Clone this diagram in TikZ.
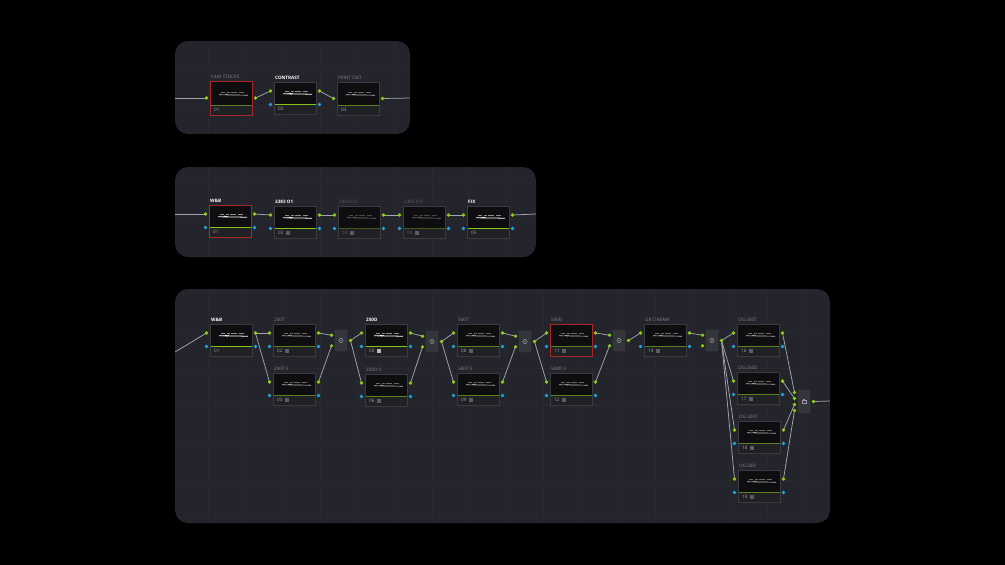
\documentclass[tikz,border=0pt]{standalone}
\usepackage{fontspec}
\setmainfont{Open Sans}
\usetikzlibrary{calc}
\pgfdeclarelayer{bglayer}
\pgfdeclarelayer{wirelayer}
\pgfsetlayers{bglayer,wirelayer,main}
\definecolor{panelc}{HTML}{24252C}
\definecolor{gridc}{HTML}{28292F}
\definecolor{nfill}{HTML}{0E0E10}
\definecolor{nedge}{HTML}{3A3B41}
\definecolor{stripcol}{HTML}{202125}
\definecolor{sepgreen}{HTML}{86C21A}
\definecolor{sepdim}{HTML}{5F7F1C}
\definecolor{pgreen}{HTML}{8CD10F}
\definecolor{pblue}{HTML}{1EA5DF}
\definecolor{selred}{HTML}{A8282A}
\definecolor{wirec}{HTML}{A4A5AA}
\definecolor{lblgrey}{HTML}{85868C}
\definecolor{lbldim}{HTML}{5E5F65}
\definecolor{numc}{HTML}{A0A1A6}
\definecolor{numdim}{HTML}{5A5B60}
\definecolor{icnc}{HTML}{5C5D62}
\definecolor{icnb}{HTML}{B8B9BD}
\definecolor{mixfill}{HTML}{34353B}
\definecolor{mixedge}{HTML}{44454B}
\definecolor{miconc}{HTML}{9A9BA0}
\newcommand\icn{\hspace{2.6pt}\textcolor{icnc}{\rule[-0.2pt]{3.6pt}{3.6pt}}}
\newcommand\icnB{\hspace{2.6pt}\textcolor{icnb}{\rule[-0.2pt]{3.6pt}{3.6pt}}}
\tikzset{
 panelbox/.style={fill=panelc, rounded corners=13pt},
 gridline/.style={draw=gridc, line width=0.5pt},
 nbox/.style={anchor=north west, minimum width=42pt, inner sep=0pt, outer sep=0pt, fill=nfill, draw=none},
 frame/.style={draw=nedge, line width=0.5pt},
 sel/.style={frame/.style={draw=selred, line width=1pt}},
 stripc/.style={fill=stripcol},
 sepline/.style={draw=sepgreen, line width=0.6pt},
 thumbA/.style={draw=white, line width=0.8pt},
 thumbB/.style={draw=white!55!black, line width=0.35pt},
 dim/.style={thumbA/.style={draw=white!72!black, line width=0.6pt},
   thumbB/.style={draw=white!40!black, line width=0.35pt},
   sepline/.style={draw=sepdim, line width=0.6pt}},
 dimmer/.style={thumbA/.style={draw=white!45!black, line width=0.6pt},
   thumbB/.style={draw=white!28!black, line width=0.35pt},
   sepline/.style={draw=sepdim!70!black, line width=0.6pt},
   numtxt/.style={anchor=west, inner sep=0pt, font=\fontsize{4.6}{5}\selectfont, text=numdim}},
 lbl/.style={anchor=base west, inner sep=0pt, font=\fontsize{4.6}{5}\selectfont, text=lblgrey},
 lblb/.style={lbl, text=white, font=\fontsize{4.6}{5}\selectfont\bfseries},
 lbld/.style={lbl, text=lbldim},
 numtxt/.style={anchor=west, inner sep=0pt, font=\fontsize{4.6}{5}\selectfont, text=numc},
 gport/.style={fill=pgreen},
 bport/.style={fill=pblue},
 wire/.style={draw=wirec, line width=0.75pt},
 mixbox/.style={anchor=north west, minimum width=12pt, inner sep=0pt, outer sep=0pt, fill=mixfill, draw=mixedge, line width=0.4pt, rounded corners=1.2pt},
 micon/.style={draw=miconc, line width=0.5pt},
}
% #1 opts, #2 name, #3 x, #4 y, #5 height, #6 label style, #7 label, #8 number
\newcommand\cgbody[8][]{%
 \begin{scope}[#1]
 \node[nbox, minimum height=#5] (#2) at (#3,#4) {};
 \fill[stripc] ($(#2.south west)+(0.3,-0.3)$) rectangle ($(#2.south east)+(-0.3,-10)$);
 \draw[sepline] ($(#2.south west)+(0.3,-10)$) -- ($(#2.south east)+(-0.3,-10)$);
 \draw[thumbB] ($(#2.south west)+(11,-22.5)$) -- ++(4,0) ++(1.5,0) -- ++(3,0) ++(1.5,0) -- ++(6,0) ++(1.5,0) -- ++(5,0);
 \draw[thumbA] ($(#2.south west)+(9,-20.3)$) -- ++(6,0.2) -- ++(1,-0.8) -- ++(1,1.2) -- ++(1,-0.9) -- ++(1,0.6) -- ++(9,0) -- ++(10,0.3);
 \draw[frame] (#2.north west) rectangle (#2.south east);
 \node[#6] at ($(#2.north west)+(1,-3)$) {#7};
 \node[numtxt] at ($(#2.south west)+(4,-4.8)$) {#8};
 \end{scope}}
\newcommand\fourports[1]{%
 \coordinate (#1-gi) at ($(#1.north west)+(-3.5,9)$);
 \coordinate (#1-bi) at ($(#1.north west)+(-3.5,22.5)$);
 \coordinate (#1-go) at ($(#1.north east)+(3.5,9)$);
 \coordinate (#1-bo) at ($(#1.north east)+(3.5,22.5)$);
 \fill[gport] (#1-gi) circle (1.8) (#1-go) circle (1.8);
 \fill[bport] (#1-bi) circle (1.8) (#1-bo) circle (1.8);}
\newcommand\twoports[1]{%
 \coordinate (#1-gi) at ($(#1.west)+(-3.5,0)$);
 \coordinate (#1-go) at ($(#1.east)+(3.5,0)$);
 \fill[gport] (#1-gi) circle (1.8) (#1-go) circle (1.8);}
% mixer: #1 name, #2 x, #3 y
\newcommand\mixtwo[3]{%
 \node[mixbox, minimum height=21pt] (#1) at (#2,#3) {};
 \draw[micon] (#1.center) circle (2.1);
 \fill[miconc] (#1.center) circle (0.7);
 \coordinate (#1-i1) at ($(#1.west)+(-3.5,-5.3)$);
 \coordinate (#1-i2) at ($(#1.west)+(-3.5,5.3)$);
 \coordinate (#1-o) at ($(#1.east)+(3.5,0)$);
 \fill[gport] (#1-i1) circle (1.8) (#1-i2) circle (1.8) (#1-o) circle (1.8);}
\newcommand\mixfour[3]{%
 \node[mixbox, minimum height=23pt] (#1) at (#2,#3) {};
 \draw[micon] ($(#1.center)+(-2,-1.6)$) rectangle ($(#1.center)+(2,2)$);
 \draw[micon] ($(#1.center)+(-1,-2.4)$) -- ($(#1.center)+(1,-2.4)$);
 \coordinate (#1-i1) at ($(#1.west)+(-3.5,-9)$);
 \coordinate (#1-i2) at ($(#1.west)+(-3.5,-3)$);
 \coordinate (#1-i3) at ($(#1.west)+(-3.5,3)$);
 \coordinate (#1-i4) at ($(#1.west)+(-3.5,9)$);
 \coordinate (#1-o) at ($(#1.east)+(3.5,0)$);
 \fill[gport] (#1-i1) circle (1.8) (#1-i2) circle (1.8) (#1-i3) circle (1.8) (#1-i4) circle (1.8) (#1-o) circle (1.8);}
\begin{document}
\begin{tikzpicture}[x=1pt,y=-1pt]
\useasboundingbox (0,0) rectangle (1005,565);
\begin{pgfonlayer}{bglayer}
\fill[black] (0,0) rectangle (1005,565);
\fill[panelbox] (175,41) rectangle (410,134);
\fill[panelbox] (175,167) rectangle (536,257);
\fill[panelbox] (175,289) rectangle (830,523);
\begin{scope}
 \clip[rounded corners=13pt] (175,41) rectangle (410,134) (175,167) rectangle (536,257) (175,289) rectangle (830,523);
 \foreach \gx in {170.7,208,...,835} \draw[gridline] (\gx,30) -- (\gx,530);
 \foreach \gy in {32.5,69.8,...,530} \draw[gridline] (170,\gy) -- (835,\gy);
\end{scope}
\end{pgfonlayer}
% ---------- panel 1
\coordinate (p1L) at (175,98);
\coordinate (p1R) at (410,98);
\cgbody[sel,dim]{fs}{210}{81}{34pt}{lbl}{FILM STOCKS}{01}
\twoports{fs}
\cgbody{ct}{274}{82}{32pt}{lblb}{CONTRAST}{02}
\fourports{ct}
\cgbody[dim]{po}{337}{82}{33pt}{lbl}{PRINT OUT}{03}
\twoports{po}
% ---------- panel 2
\coordinate (p2L) at (175,214);
\coordinate (p2R) at (536,214);
\cgbody[sel]{wa}{209}{205}{32pt}{lblb}{W\&B}{01}
\fourports{wa}
\cgbody{oa}{274}{206}{32pt}{lblb}{2383 O1}{02\icn}
\fourports{oa}
\cgbody[dimmer]{ob}{338}{206}{32pt}{lbld}{2383 O2}{03\icn}
\fourports{ob}
\cgbody[dimmer]{oc}{403}{206}{32pt}{lbld}{2383 O3}{04\icn}
\fourports{oc}
\cgbody{fx}{467}{206}{32pt}{lblb}{FIX}{05}
\fourports{fx}
% ---------- panel 3
\coordinate (p3L) at (175,352);
\coordinate (p3R) at (830,401);
\cgbody{wb}{210}{324}{32pt}{lblb}{W\&B}{01}
\fourports{wb}
\cgbody[dim]{ta}{273}{324}{32pt}{lbl}{200T}{02\icn}
\fourports{ta}
\cgbody[dim]{tb}{273}{373}{32pt}{lbl}{200T S}{03\icn}
\fourports{tb}
\mixtwo{ma}{335}{330}
\cgbody{da}{365}{324}{32pt}{lblb}{250D}{05\icnB}
\fourports{da}
\cgbody[dim]{db}{365}{374}{32pt}{lbl}{250D S}{06\icn}
\fourports{db}
\mixtwo{mb}{426}{331}
\cgbody[dim]{ea}{457}{324}{32pt}{lbl}{500T}{08\icn}
\fourports{ea}
\cgbody[dim]{eb}{457}{373}{32pt}{lbl}{500T S}{09\icn}
\fourports{eb}
\mixtwo{mc}{519}{331}
\cgbody[sel,dim]{fa}{550}{324}{32pt}{lbl}{500D}{11\icn}
\fourports{fa}
\cgbody[dim]{fb}{550}{373}{32pt}{lbl}{500D S}{12\icn}
\fourports{fb}
\mixtwo{md}{613}{330}
\cgbody[dim]{ga}{644}{324}{32pt}{lbl}{G8 CINEMA}{14\icn}
\fourports{ga}
\mixtwo{me}{706}{330}
\cgbody[dim]{ha}{737}{324}{32pt}{lbl}{OG 200T}{16\icn}
\fourports{ha}
\cgbody[dim]{hb}{737}{372}{32pt}{lbl}{OG 250D}{17\icn}
\fourports{hb}
\cgbody[dim]{hc}{738}{421}{32pt}{lbl}{OG 500T}{18\icn}
\fourports{hc}
\cgbody[dim]{hd}{738}{470}{32pt}{lbl}{OG 50D}{19\icn}
\fourports{hd}
\mixfour{mf}{798}{390}
% ---------- wires
\begin{pgfonlayer}{wirelayer}
\draw[wire] (p1L) -- (fs-gi);
\draw[wire] (fs-go) -- (ct-gi);
\draw[wire] (ct-go) -- (po-gi);
\draw[wire] (po-go) -- (p1R);
\draw[wire] (p2L) -- (wa-gi);
\draw[wire] (wa-go) -- (oa-gi);
\draw[wire] (oa-go) -- (ob-gi);
\draw[wire] (ob-go) -- (oc-gi);
\draw[wire] (oc-go) -- (fx-gi);
\draw[wire] (fx-go) -- (p2R);
\draw[wire] (p3L) -- (wb-gi);
\draw[wire] (wb-go) -- (ta-gi);
\draw[wire] (wb-go) -- (tb-gi);
\draw[wire] (ta-go) -- (ma-i1);
\draw[wire] (tb-go) -- (ma-i2);
\draw[wire] (ma-o) -- (da-gi);
\draw[wire] (ma-o) -- (db-gi);
\draw[wire] (da-go) -- (mb-i1);
\draw[wire] (db-go) -- (mb-i2);
\draw[wire] (mb-o) -- (ea-gi);
\draw[wire] (mb-o) -- (eb-gi);
\draw[wire] (ea-go) -- (mc-i1);
\draw[wire] (eb-go) -- (mc-i2);
\draw[wire] (mc-o) -- (fa-gi);
\draw[wire] (mc-o) -- (fb-gi);
\draw[wire] (fa-go) -- (md-i1);
\draw[wire] (fb-go) -- (md-i2);
\draw[wire] (md-o) -- (ga-gi);
\draw[wire] (ga-go) -- (me-i1);
\draw[wire] (me-o) -- (ha-gi);
\draw[wire] (me-o) -- (hb-gi);
\draw[wire] (me-o) -- (hc-gi);
\draw[wire] (me-o) -- (hd-gi);
\draw[wire] (ha-go) -- (mf-i1);
\draw[wire] (hb-go) -- (mf-i2);
\draw[wire] (hc-go) -- (mf-i3);
\draw[wire] (hd-go) -- (mf-i4);
\draw[wire] (mf-o) -- (p3R);
\end{pgfonlayer}
\end{tikzpicture}
\end{document}
